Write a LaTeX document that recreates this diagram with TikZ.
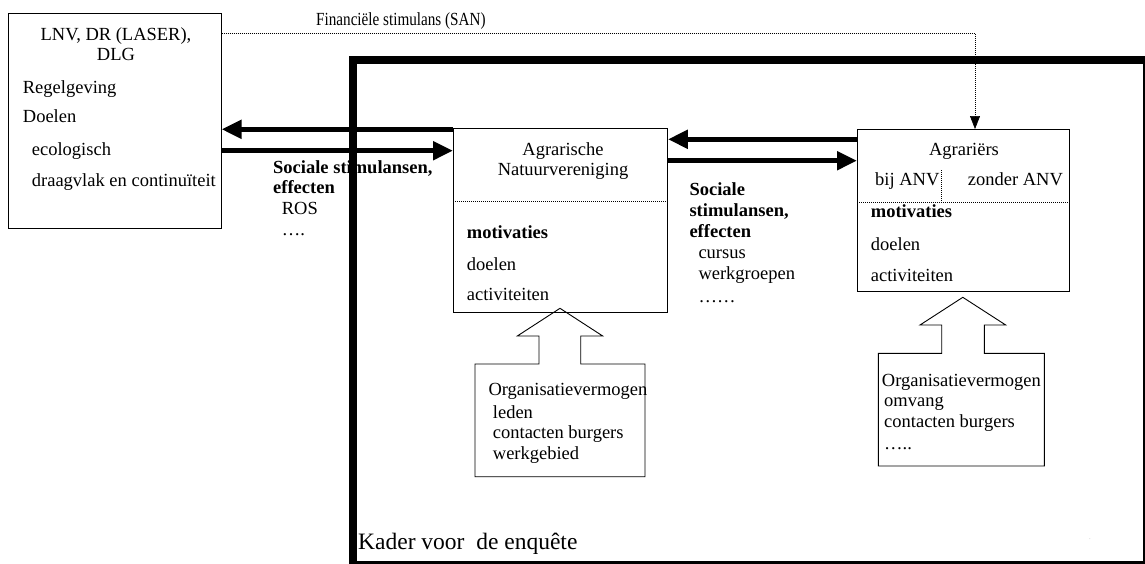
\documentclass[tikz,border=0pt]{standalone}
\usepackage{fontspec}
\setmainfont{Liberation Serif}
\usetikzlibrary{arrows.meta,calc}
\begin{document}
\begin{tikzpicture}[x=1pt,y=-1pt,
  box/.style={draw,line width=0.9pt,inner sep=0pt,anchor=north west},
  txt/.style={anchor=base west,inner sep=0pt,font=\fontsize{18.5}{21}\selectfont},
  ctxt/.style={anchor=base,inner sep=0pt,font=\fontsize{18.5}{21}\selectfont},
  btxt/.style={txt,font=\fontsize{18.5}{21}\selectfont\bfseries},
  big/.style={line width=5pt,-{Triangle[length=20pt,width=18pt]}},
  sep/.style={line width=0.6pt,dash pattern=on 1pt off 1pt},
  fin/.style={line width=0.6pt,dash pattern=on 1pt off 1pt,-{Triangle[length=13pt,width=10pt]}},
  outline/.style={line width=0.9pt,line join=miter}]
\clip (0,0) rectangle (1145,563);
\fill[white] (0,0) rectangle (1145,563);

% boxes
\node[box,minimum width=212.4pt,minimum height=214.4pt] (lnv) at (8.3,13.3) {};
\node[box,minimum width=214pt,minimum height=184pt] (anv) at (453,128) {};
\node[box,minimum width=212.3pt,minimum height=162pt] (agr) at (857,129) {};

% left box texts
\node[ctxt] (lnvt1) at (116,40) {LNV, DR (LASER),};
\node[ctxt] (lnvt2) at (116,60) {DLG};
\node[txt] (reg) at (22.7,93) {Regelgeving};
\node[txt] (doel) at (22.7,122.7) {Doelen};
\node[txt] (eco) at (31.7,155) {ecologisch};
\node[txt] (draag) at (31.7,186) {draagvlak en continuïteit};

% financial stimulus
\node[txt] (fint) at (316,25) {\scalebox{0.82}[1]{Financiële stimulans (SAN)}};
\coordinate (fc) at (975,33.3);
\draw[fin] (lnv.east |- fc) -- (fc) -- (fc |- agr.north);

% big arrows
\draw[big] (anv.west |- 0,129.3) -- (lnv.east |- 0,129.3);
\draw[big] (lnv.east |- 0,150.7) -- (anv.west |- 0,150.7);
\draw[big] (agr.west |- 0,139.3) -- (anv.east |- 0,139.3);
\draw[big] (anv.east |- 0,160.7) -- (agr.west |- 0,160.7);

% labels on arrows
\node[btxt] (s1a) at (273,173.3) {Sociale stimulansen,};
\node[btxt] (s1b) at (273,193.5) {effecten};
\node[txt] (s1c) at (281.7,214.5) {ROS};
\node[txt] (s1d) at (281.7,235) {….};

\node[btxt] (s2a) at (689.3,195) {Sociale};
\node[btxt] (s2b) at (689.3,216) {stimulansen,};
\node[btxt] (s2c) at (689.3,237) {effecten};
\node[txt] (s2d) at (698.3,258) {cursus};
\node[txt] (s2e) at (698.3,279) {werkgroepen};
\node[txt] (s2f) at (698.3,302) {……};

% ANV box contents
\node[ctxt] (anvt1) at (563,155) {Agrarische};
\node[ctxt] (anvt2) at (563,175) {Natuurvereniging};
\draw[sep] (anv.west |- 0,201.7) -- (anv.east |- 0,201.7);
\node[btxt] (anvm) at (466.7,238.3) {motivaties};
\node[txt] (anvd) at (466.7,270) {doelen};
\node[txt] (anva) at (466.7,300) {activiteiten};

% Agrariers box contents
\node[ctxt] (agrt) at (964,155) {Agrariërs};
\node[txt] (bij) at (875,185.7) {bij ANV};
\node[txt] (zonder) at (967.7,185.7) {zonder ANV};
\draw[sep] (941.7,170) -- (941.7,202.3);
\draw[sep] (agr.west |- 0,202.3) -- (agr.east |- 0,202.3);
\node[btxt] (agrm) at (870.7,217.3) {motivaties};
\node[txt] (agrd) at (870.7,250) {doelen};
\node[txt] (agra) at (870.7,281) {activiteiten};

% organisation capacity (ANV)
\draw[outline] (475,364) -- (539,364) -- (539,336) -- (517.3,336) -- (560,308.3)
  -- (602.7,336) -- (580.7,336) -- (580.7,364) -- (645,364) -- (645,476.7)
  -- (475,476.7) -- cycle;
\node[txt] (o1a) at (488.3,395) {Organisatievermogen};
\node[txt] (o1b) at (492.7,418.3) {leden};
\node[txt] (o1c) at (492.7,438.8) {contacten burgers};
\node[txt] (o1d) at (492.7,459.3) {werkgebied};

% organisation capacity (Agrariers)
\draw[outline] (878.3,353.3) -- (941.7,353.3) -- (941.7,325) -- (920,325) -- (962.8,297.3)
  -- (1005.7,325) -- (984.3,325) -- (984.3,353.3) -- (1044.3,353.3) -- (1044.3,466)
  -- (878.3,466) -- cycle;
\node[txt] (o2a) at (881.7,386) {Organisatievermogen};
\node[txt] (o2b) at (884,406.5) {omvang};
\node[txt] (o2c) at (884,427.3) {contacten burgers};
\node[txt] (o2d) at (884,449) {…..};

% frame
\node[txt,font=\fontsize{23.5}{26}\selectfont] (kadert) at (358,549) {Kader voor~ de enquête};
\node[inner sep=0pt,font=\fontsize{5}{5}\selectfont,text=gray] (stray) at (1090,539) {.};
\node[draw,line width=8pt,inner sep=0pt,anchor=north west,minimum width=794.8pt,minimum height=505.3pt] (kader) at (348.5,55.5) {};
\end{tikzpicture}
\end{document}
